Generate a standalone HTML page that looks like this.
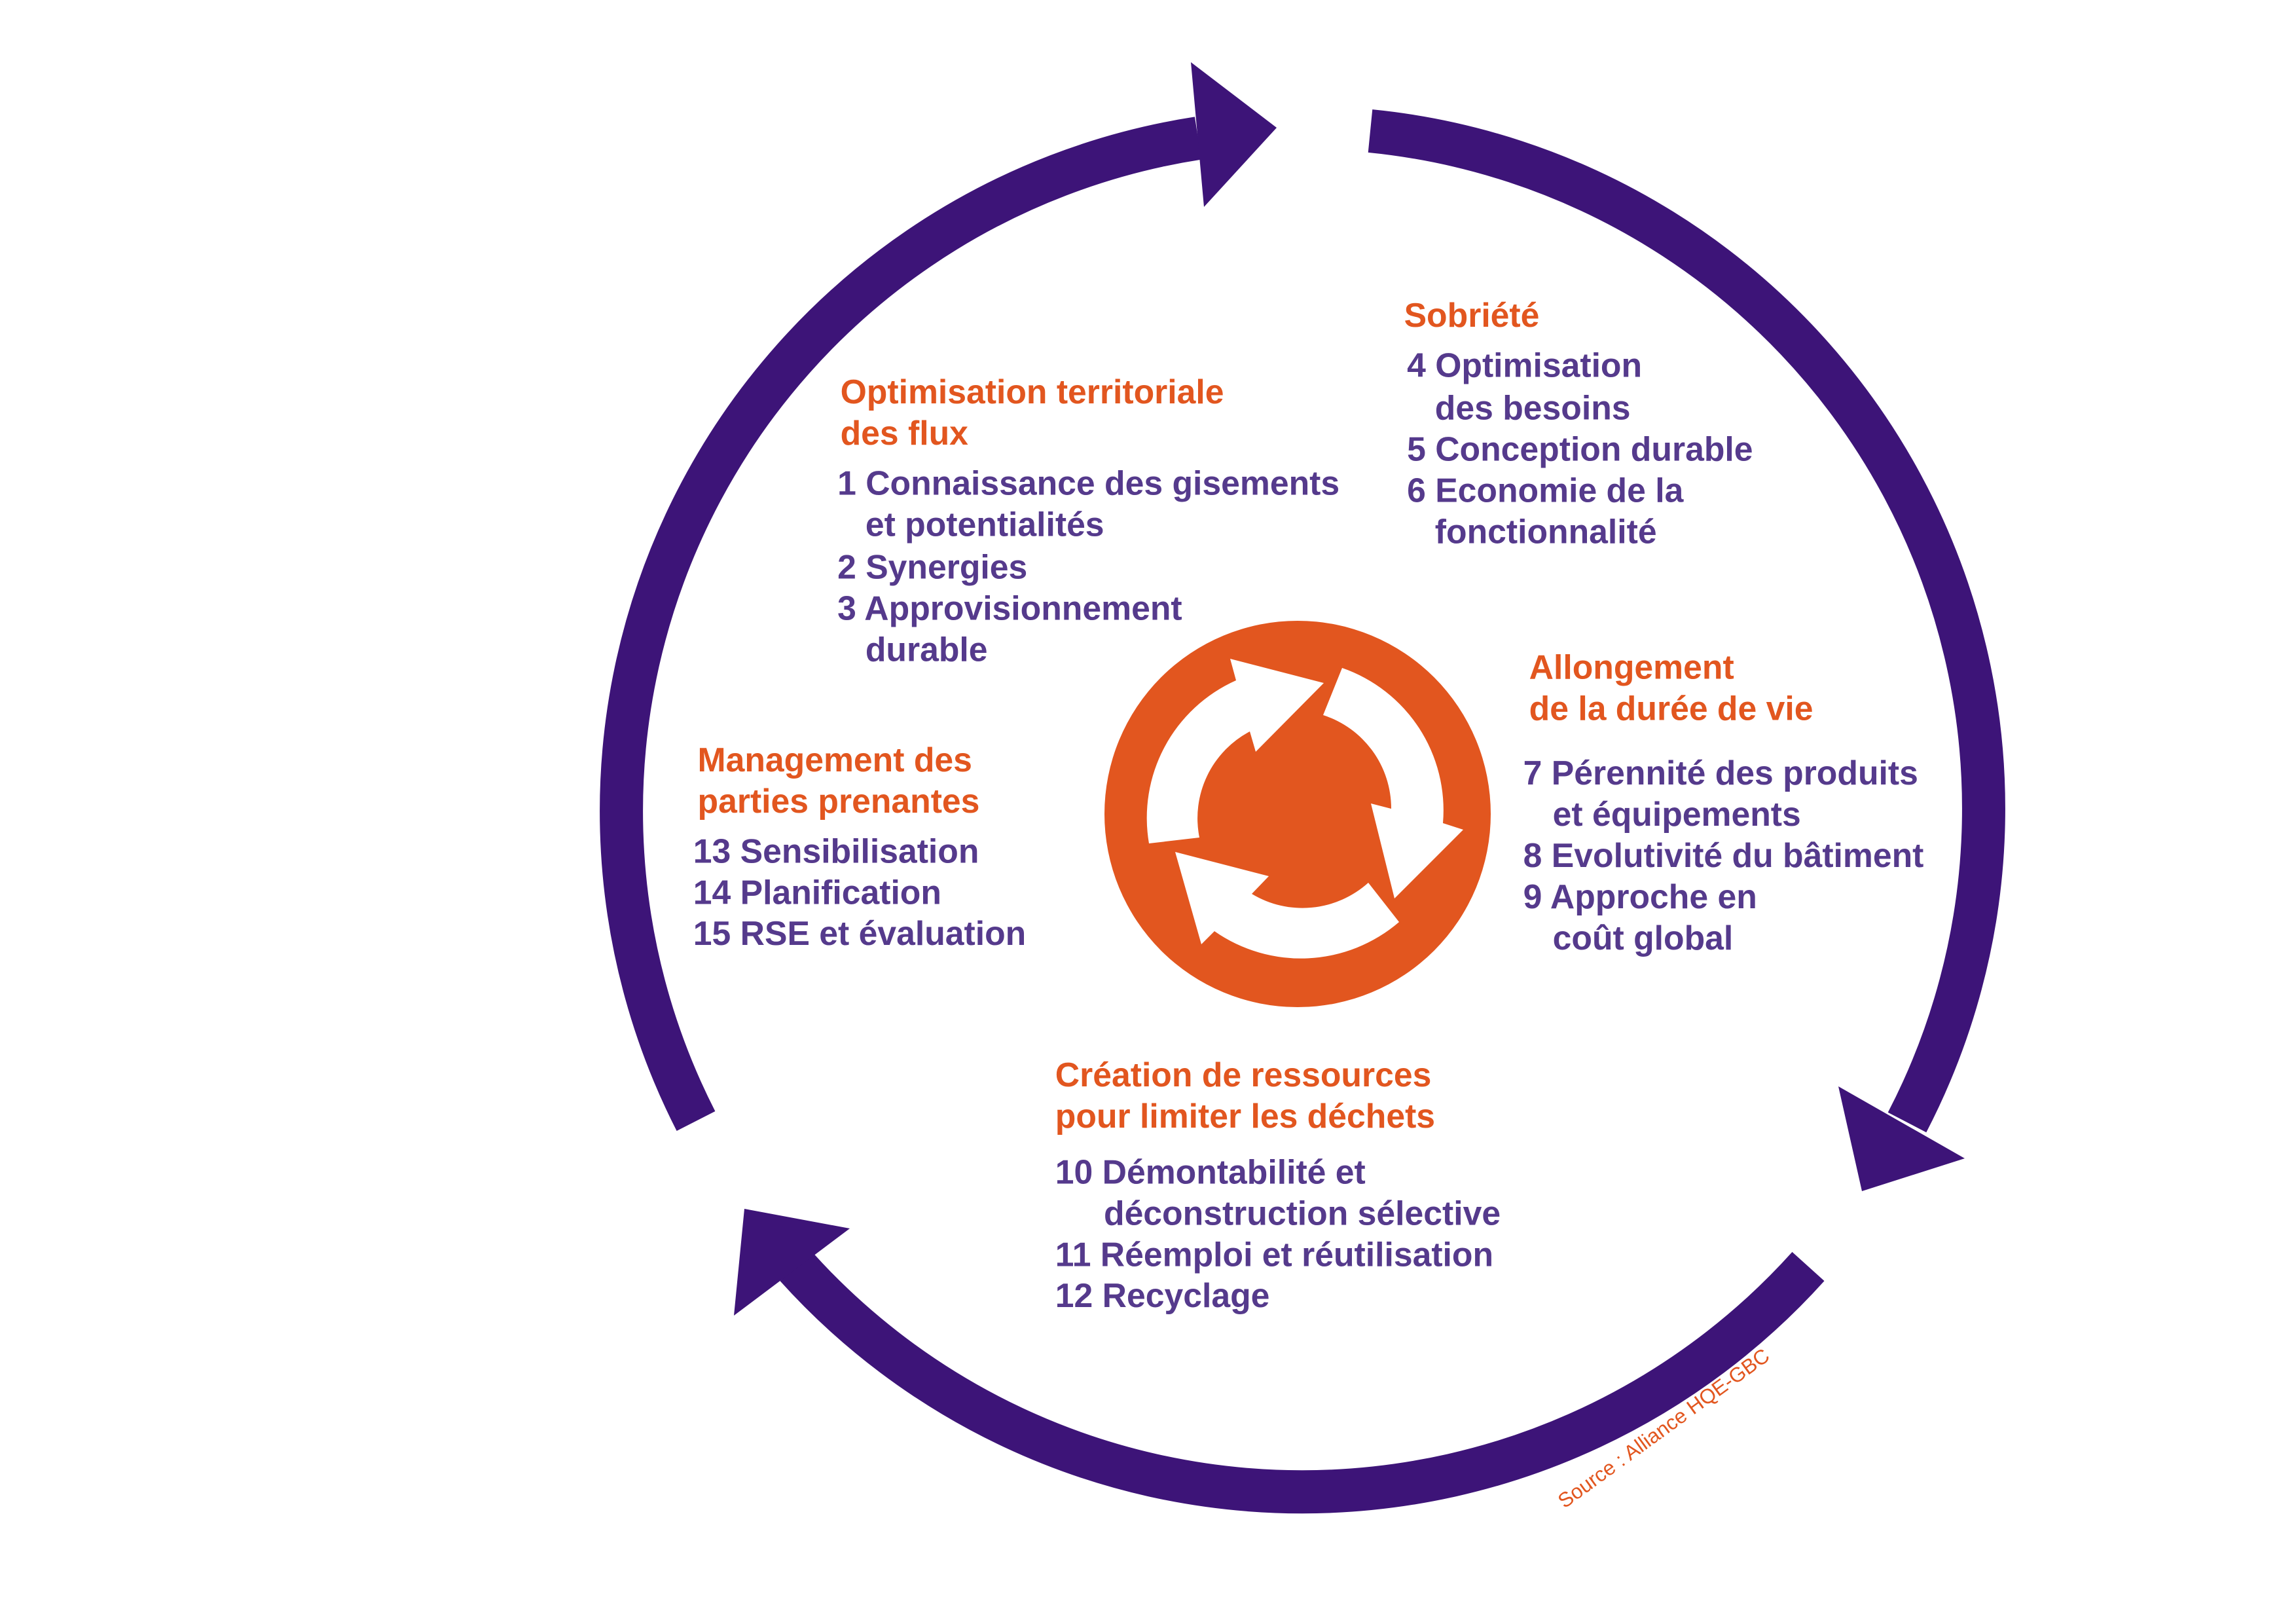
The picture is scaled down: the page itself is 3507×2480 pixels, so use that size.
<!DOCTYPE html>
<html><head><meta charset="utf-8"><style>
html,body{margin:0;padding:0;background:#fff;}
svg{display:block;}
text{font-family:"Liberation Sans",Arial,sans-serif;font-weight:bold;font-size:23px;}
.o{fill:#E2561F;}
.p{fill:#553A8C;}
</style></head><body>
<svg width="3507" height="2480" viewBox="0 0 3507 2480" xmlns="http://www.w3.org/2000/svg">
<rect width="3507" height="2480" fill="#fff"/>
<g fill="none" stroke="#3D1478" stroke-width="66">
<path d="M 2093 200 A 1040 1040 0 0 1 2913 1714"/>
<path d="M 2762 1934 A 1040 1040 0 0 1 1216 1934"/>
<path d="M 1063 1712 A 1040 1040 0 0 1 1830 211"/>
</g>
<g fill="#3D1478">
<polygon points="1819,95 1950,195 1839,316"/>
<polygon points="2808,1659 3001,1769 2844,1819"/>
<polygon points="1137,1846 1298,1876 1121,2009"/>
</g>
<circle cx="1982" cy="1243" r="295" fill="#E2561F"/>
<g fill="#fff">
<path d="M 1832 1279 L 1755 1288 A 230 230 0 0 1 1888 1039 L 1879 1006 L 2022 1043 L 1918 1148 L 1909 1117 A 150 150 0 0 0 1832 1279 Z"/>
<path d="M 2021 1092 L 2050 1020 A 230 230 0 0 1 2204 1257 L 2235 1267 L 2130 1372 L 2094 1227 L 2125 1235 A 150 150 0 0 0 2021 1092 Z"/>
<path d="M 2090 1348 L 2137 1408 A 230 230 0 0 1 1855 1422 L 1835 1442 L 1795 1301 L 1938 1338 L 1912 1365 A 150 150 0 0 0 2090 1348 Z"/>
</g>
<g transform="scale(2.248) translate(-3,-2)">
<text class="o" x="574" y="276">Optimisation territoriale</text>
<text class="o" x="574" y="304">des flux</text>
<text class="p" x="572" y="338">1 Connaissance des gisements</text>
<text class="p" x="591" y="366">et potentialités</text>
<text class="p" x="572" y="395">2 Synergies</text>
<text class="p" x="572" y="423">3 Approvisionnement</text>
<text class="p" x="591" y="451">durable</text>

<text class="o" x="957" y="224">Sobriété</text>
<text class="p" x="959" y="258">4 Optimisation</text>
<text class="p" x="978" y="287">des besoins</text>
<text class="p" x="959" y="315">5 Conception durable</text>
<text class="p" x="959" y="343">6 Economie de la</text>
<text class="p" x="978" y="371">fonctionnalité</text>

<text class="o" x="1042" y="463">Allongement</text>
<text class="o" x="1042" y="491">de la durée de vie</text>
<text class="p" x="1038" y="535">7 Pérennité des produits</text>
<text class="p" x="1058" y="563">et équipements</text>
<text class="p" x="1038" y="591">8 Evolutivité du bâtiment</text>
<text class="p" x="1038" y="619">9 Approche en</text>
<text class="p" x="1058" y="647">coût global</text>

<text class="o" x="477" y="526">Management des</text>
<text class="o" x="477" y="554">parties prenantes</text>
<text class="p" x="474" y="588">13 Sensibilisation</text>
<text class="p" x="474" y="616">14 Planification</text>
<text class="p" x="474" y="644">15 RSE et évaluation</text>

<text class="o" x="720" y="740">Création de ressources</text>
<text class="o" x="720" y="768">pour limiter les déchets</text>
<text class="p" x="720" y="806">10 Démontabilité  et</text>
<text class="p" x="753" y="834">déconstruction sélective</text>
<text class="p" x="720" y="862">11 Réemploi et réutilisation</text>
<text class="p" x="720" y="890">12 Recyclage</text>

<text class="o" x="1066" y="1027" transform="rotate(-36 1066 1027)" style="font-weight:normal;font-size:14px">Source : Alliance HQE-GBC</text>
</g>
</svg>
</body></html>
